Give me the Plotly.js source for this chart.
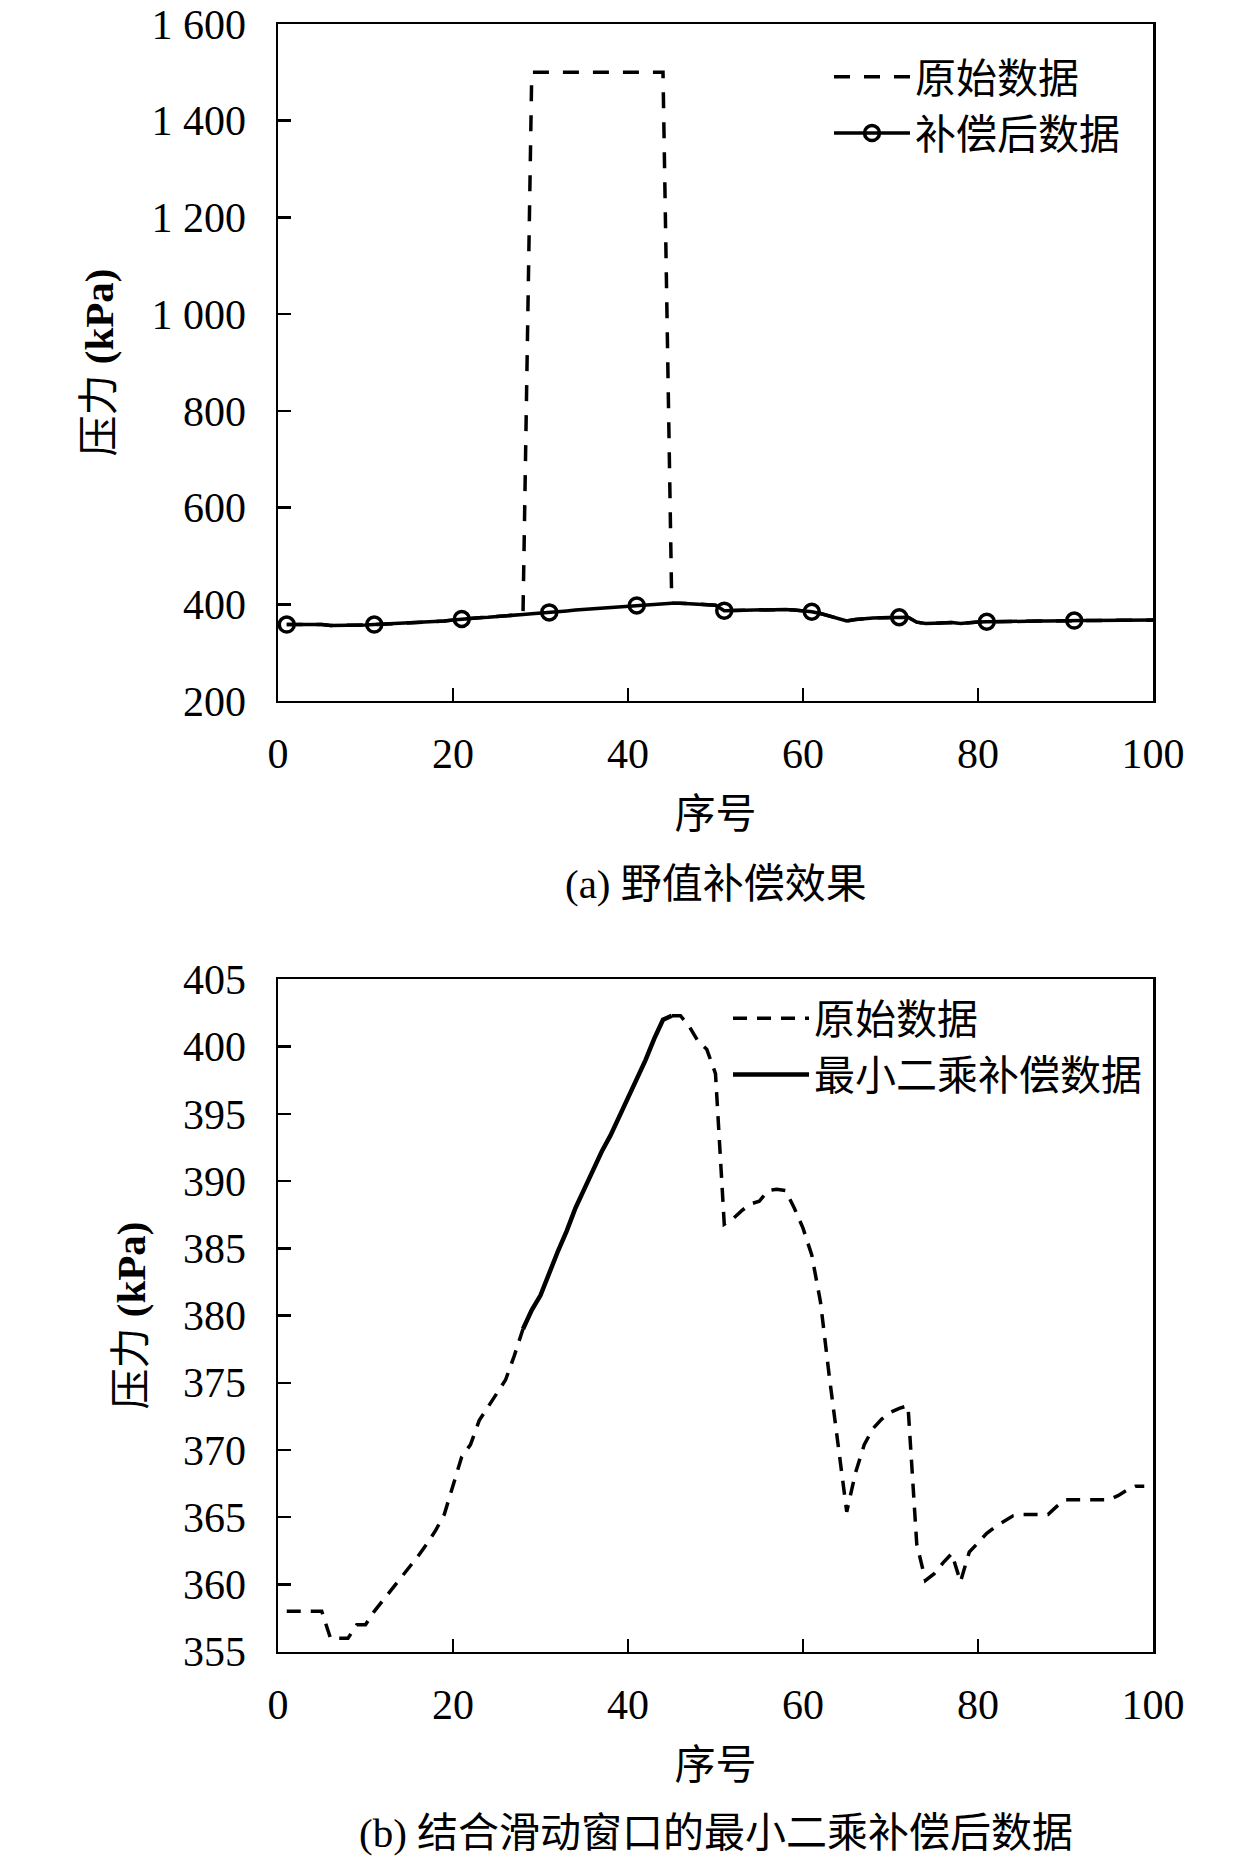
<!DOCTYPE html>
<html>
<head>
<meta charset="utf-8">
<script src="https://cdn.plot.ly/plotly-3.0.1.min.js"></script>
<style>
  body { margin: 0; background: #fff; }
  #chart { width: 1260px; height: 1866px; }
</style>
</head>
<body>
<div id="chart"></div>
<script>
// Sample numbers (序号)
var seqNo = [
  1, 2, 3, 4, 5, 6, 7, 8, 9, 10,
  11, 12, 13, 14, 15, 16, 17, 18, 19, 20,
  21, 22, 23, 24, 25, 26, 27, 28, 29, 30,
  31, 32, 33, 34, 35, 36, 37, 38, 39, 40,
  41, 42, 43, 44, 45, 46, 47, 48, 49, 50,
  51, 52, 53, 54, 55, 56, 57, 58, 59, 60,
  61, 62, 63, 64, 65, 66, 67, 68, 69, 70,
  71, 72, 73, 74, 75, 76, 77, 78, 79, 80,
  81, 82, 83, 84, 85, 86, 87, 88, 89, 90,
  91, 92, 93, 94, 95, 96, 97, 98, 99, 100
];

// Raw pressure (kPa), outliers at 29-44
var rawPressure = [
  358, 358, 358, 358, 358, 356, 356, 356, 357, 357,
  358, 358.8, 359.7, 360.5, 361.3, 362.1, 363, 364, 365.2, 367.3,
  369.5, 370.4, 372.2, 373.2, 374.2, 375.2, 377, 379, 1500, 1500,
  1500, 1500, 1500, 1500, 1500, 1500, 1500, 1500, 1500, 1500,
  1500, 1500, 1500, 1500, 402.3, 402.3, 401.5, 400.4, 399.8, 398,
  386.8, 387.2, 387.8, 388.3, 388.5, 389.3, 389.4, 389.3, 388, 386.5,
  384.5, 381, 375.5, 370.5, 365.4, 368.3, 370.4, 371.6, 372.3, 372.8,
  373.1, 373.3, 363, 360.3, 360.8, 361.6, 362.3, 360.2, 362.4, 363.1,
  363.8, 364.3, 364.7, 365.1, 365.2, 365.2, 365.2, 365.2, 365.8, 366.3,
  366.3, 366.3, 366.3, 366.3, 366.3, 366.6, 367, 367.3, 367.3, 367.3
];

// Pressure after least-squares compensation (kPa)
var compensated = [
  358, 358, 358, 358, 358, 356, 356, 356, 357, 357,
  358, 358.8, 359.7, 360.5, 361.3, 362.1, 363, 364, 365.2, 367.3,
  369.5, 370.4, 372.2, 373.2, 374.2, 375.2, 377, 379, 380.4, 381.5,
  383.2, 384.8, 386.3, 388, 389.4, 390.8, 392.2, 393.4, 394.8, 396.2,
  397.6, 399, 400.6, 402, 402.3, 402.3, 401.5, 400.4, 399.8, 398,
  386.8, 387.2, 387.8, 388.3, 388.5, 389.3, 389.4, 389.3, 388, 386.5,
  384.5, 381, 375.5, 370.5, 365.4, 368.3, 370.4, 371.6, 372.3, 372.8,
  373.1, 373.3, 363, 360.3, 360.8, 361.6, 362.3, 360.2, 362.4, 363.1,
  363.8, 364.3, 364.7, 365.1, 365.2, 365.2, 365.2, 365.2, 365.8, 366.3,
  366.3, 366.3, 366.3, 366.3, 366.3, 366.6, 367, 367.3, 367.3, 367.3
];

var outlierStart = 29;
var outlierEnd = 44;
var lastB = 99;   // panel (b) stops at sample 99

var yTickValsA = [200, 400, 600, 800, 1000, 1200, 1400, 1600];
var yTickTextA = ["200", "400", "600", "800", "1 000", "1 200", "1 400", "1 600"];
var yTickValsB = [355, 360, 365, 370, 375, 380, 385, 390, 395, 400, 405];

var serif = "Liberation Serif, 'Noto Sans CJK SC', serif";

// panel (b) pieces built from the arrays above
var xB = [], rawB = [], fitX = [], fitY = [];
seqNo.forEach(function(n, i){
  if (n > lastB) return;
  xB.push(n);
  rawB.push((n >= outlierStart && n <= outlierEnd) ? null : rawPressure[i]);
  if (n >= outlierStart - 1 && n <= outlierEnd + 1){
    fitX.push(n);
    fitY.push(compensated[i]);
  }
});

var data = [
  {
    x: seqNo, y: rawPressure, name: "原始数据",
    type: "scatter", mode: "lines",
    line: { color: "#000", width: 3.5, dash: "16px,14px" },
    xaxis: "x", yaxis: "y", legend: "legend"
  },
  {
    x: seqNo, y: compensated, name: "补偿后数据",
    type: "scatter", mode: "lines+markers",
    line: { color: "#000", width: 3.5 },
    marker: { symbol: "circle-open", size: 15, color: "#000", maxdisplayed: 10,
              line: { color: "#000", width: 3.5 } },
    xaxis: "x", yaxis: "y", legend: "legend"
  },
  {
    x: xB, y: rawB, name: "原始数据",
    type: "scatter", mode: "lines",
    line: { color: "#000", width: 3.5, dash: "14px,10px" },
    xaxis: "x2", yaxis: "y2", legend: "legend2"
  },
  {
    x: fitX, y: fitY, name: "最小二乘补偿数据",
    type: "scatter", mode: "lines",
    line: { color: "#000", width: 4.5 },
    xaxis: "x2", yaxis: "y2", legend: "legend2"
  }
];

function xAxis(anchor){
  return {
    anchor: anchor, domain: [0, 1], range: [0, 100],
    tickvals: [0, 20, 40, 60, 80, 100],
    ticks: "inside", ticklen: 13, tickwidth: 2.5, tickcolor: "#000",
    showline: true, linewidth: 2.5, linecolor: "#000", mirror: true,
    showgrid: false, zeroline: false,
    tickfont: { family: serif, size: 42, color: "#000" },
    ticklabelstandoff: 14,
    title: { text: "序号", font: { family: serif, size: 41, color: "#000" }, standoff: 24 }
  };
}

function yAxis(anchor, domain, range, vals, text){
  var ax = {
    anchor: anchor, domain: domain, range: range,
    tickvals: vals,
    ticks: "inside", ticklen: 13, tickwidth: 2.5, tickcolor: "#000",
    showline: true, linewidth: 2.5, linecolor: "#000", mirror: true,
    showgrid: false, zeroline: false,
    tickfont: { family: serif, size: 42, color: "#000" },
    ticklabelstandoff: 21,
    title: { text: "压力 <b>(kPa)</b>", font: { family: serif, size: 41, color: "#000" }, standoff: 25 }
  };
  if (text) ax.ticktext = text;
  return ax;
}

var layout = {
  width: 1260, height: 1866,
  margin: { l: 278, r: 107, t: 24, b: 206 },
  paper_bgcolor: "#fff", plot_bgcolor: "#fff",
  font: { family: serif, size: 40, color: "#000" },
  xaxis: xAxis("y"),
  yaxis: yAxis("x", [0.5862, 1], [200, 1600], yTickValsA, yTickTextA),
  xaxis2: xAxis("y2"),
  yaxis2: yAxis("x2", [0.0051, 0.4160], [355, 405], yTickValsB),
  legend: {
    x: 0.6297, y: 0.9880, xanchor: "left", yanchor: "top", itemwidth: 76,
    bgcolor: "rgba(0,0,0,0)", font: { family: serif, size: 41, color: "#000" },
    tracegroupgap: 0
  },
  legend2: {
    x: 0.5143, y: 0.4126, xanchor: "left", yanchor: "top", itemwidth: 76,
    bgcolor: "rgba(0,0,0,0)", font: { family: serif, size: 41, color: "#000" },
    tracegroupgap: 0
  },
  annotations: [
    { text: "(a) 野值补偿效果", xref: "paper", yref: "paper", x: 0.5, y: 0.4745,
      xanchor: "center", yanchor: "middle", showarrow: false,
      font: { family: serif, size: 41, color: "#000" } },
    { text: "(b) 结合滑动窗口的最小二乘补偿后数据", xref: "paper", yref: "paper", x: 0.5, y: -0.106,
      xanchor: "center", yanchor: "middle", showarrow: false,
      font: { family: serif, size: 41, color: "#000" } }
  ]
};

Plotly.newPlot("chart", data, layout, { staticPlot: true });
</script>
</body>
</html>
